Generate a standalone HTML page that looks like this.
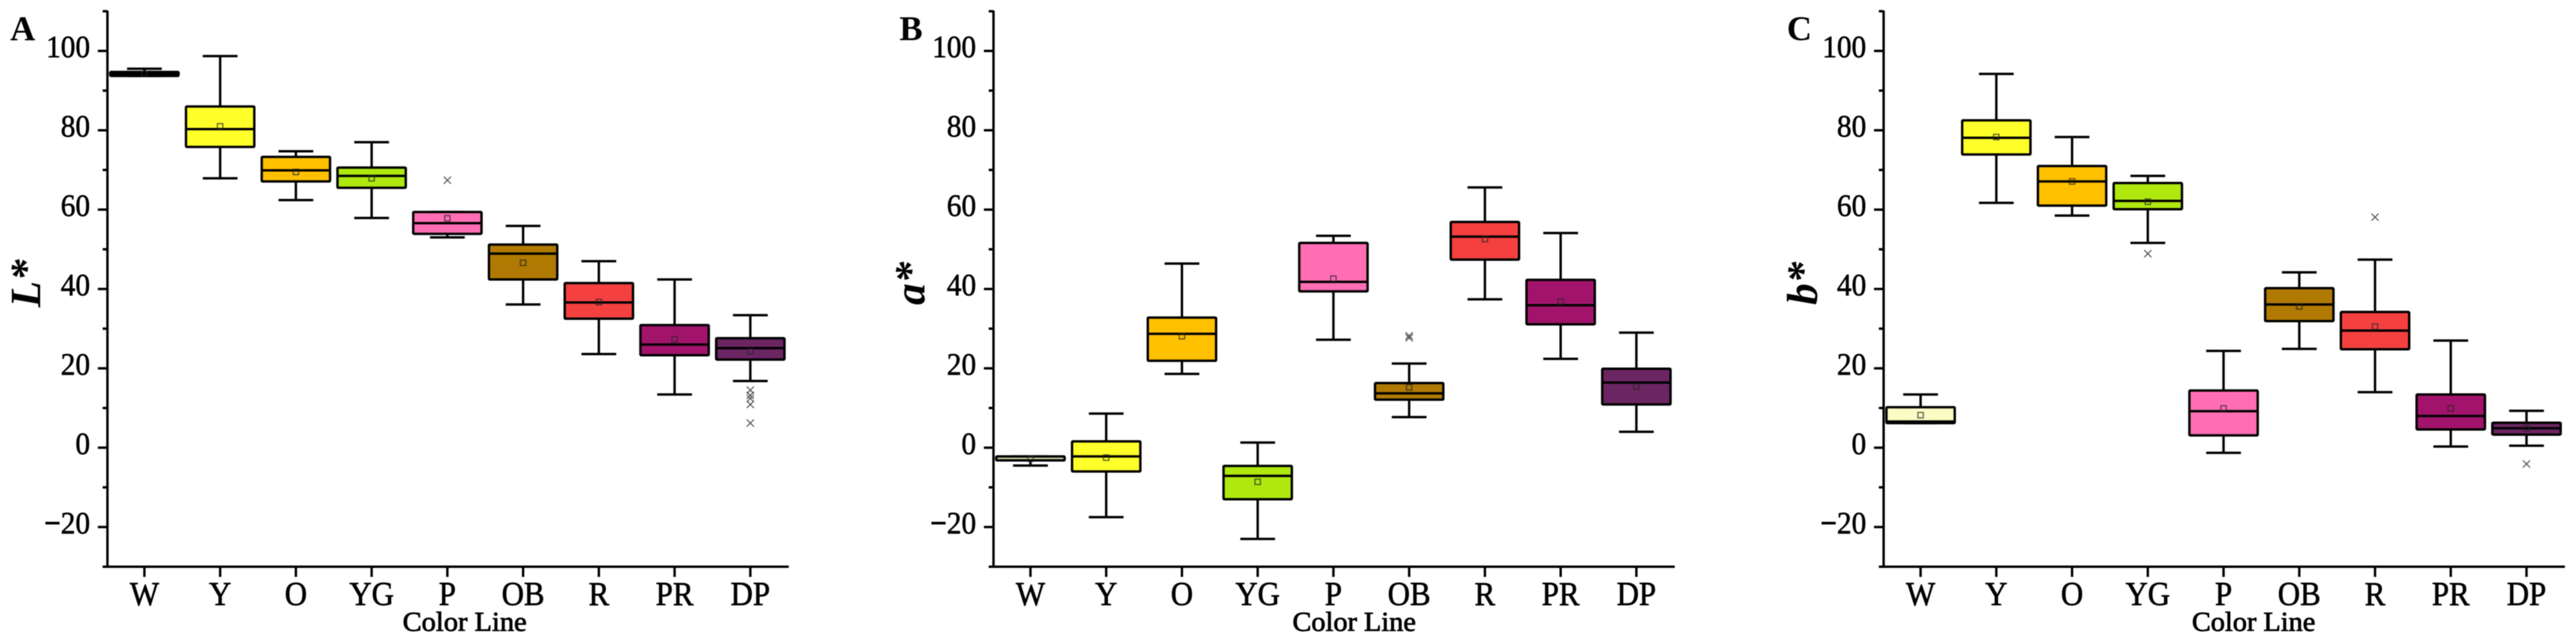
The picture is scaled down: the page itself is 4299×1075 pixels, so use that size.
<!DOCTYPE html>
<html lang="en">
<head>
<meta charset="utf-8">
<title>Color line box plots: L*, a*, b*</title>
<style>
html,body{margin:0;padding:0;background:#fff;}
body{width:4299px;height:1075px;overflow:hidden;}
svg{display:block;filter:blur(0.7px);font-family:"Liberation Serif",serif;}
</style>
</head>
<body>
<svg id="figure" xmlns="http://www.w3.org/2000/svg" width="4299" height="1075" viewBox="0 0 4299 1075">
  <text x="17" y="67" font-size="58" font-weight="bold">A</text>
  <text x="1501" y="67" font-size="58" font-weight="bold">B</text>
  <text x="2982" y="67" font-size="58" font-weight="bold">C</text>

  <text transform="translate(67,473) rotate(-90)" text-anchor="middle" font-size="72" font-weight="bold" font-style="italic">L*</text>
  <text transform="translate(1543,473) rotate(-90)" text-anchor="middle" font-size="72" font-weight="bold" font-style="italic">a*</text>
  <text transform="translate(3032,473) rotate(-90)" text-anchor="middle" font-size="72" font-weight="bold" font-style="italic">b*</text>

  <text x="672" y="1053" font-size="46" textLength="207" lengthAdjust="spacingAndGlyphs" stroke="#000" stroke-width="1.2">Color Line</text>
  <text x="2157" y="1053" font-size="46" textLength="206" lengthAdjust="spacingAndGlyphs" stroke="#000" stroke-width="1.2">Color Line</text>
  <text x="3658" y="1053" font-size="46" textLength="206" lengthAdjust="spacingAndGlyphs" stroke="#000" stroke-width="1.2">Color Line</text>
</svg>
<script>
// ---- Shared categories and axis ticks ----
const categories = ['W','Y','O','YG','P','OB','R','PR','DP'];
const boxColors = ['#fbfbc4','#ffff2a','#ffc000','#afe80f','#ff6eb4','#b07a02','#f54040','#a2146c','#6c2563'];
const majorTicks = [100,80,60,40,20,0,-20];
const minorTicks = [110,90,70,50,30,10,-10,-30];
const tickLabels = ['100','80','60','40','20','0','20'];

// ---- Panel A: L* ----
const lWhiskerHigh = [95.5,98.7,74.7,77,59.4,55.9,47,42.4,33.4];
const lQ3 = [94.7,86,73.3,70.6,59.4,51.2,41.5,30.9,27.6];
const lMedian = [94.2,80.3,69.9,68.5,56.6,48.9,36.6,26,25.1];
const lQ1 = [93.7,75.8,67.1,65.5,53.9,42.4,32.5,23.3,22.2];
const lWhiskerLow = [93.7,67.9,62.4,57.9,53,36.1,23.6,13.4,16.8];
const lMean = [94.2,81,69.5,67.9,57.8,46.6,36.7,27.3,24.3];
const lOutliers = [[],[],[],[],[67.4],[],[],[],[14.5,13.2,12.4,10.9,6.2]];

// ---- Panel B: a* ----
const aWhiskerHigh = [-2.2,8.6,46.4,1.3,53.4,21.2,65.6,54.1,29];
const aQ3 = [-2.2,1.6,32.8,-4.6,51.6,16.3,56.9,42.3,19.9];
const aMedian = [-3.2,-2.2,28.7,-7.1,41.8,13.7,53.2,35.9,16.4];
const aQ1 = [-3.2,-6,21.9,-13,39.4,12.1,47.4,31.1,10.9];
const aWhiskerLow = [-4.5,-17.5,18.6,-23,27.2,7.7,37.4,22.4,4];
const aMean = [-2.8,-2.5,28.1,-8.6,42.6,15.2,52.6,36.8,15.4];
const aOutliers = [[],[],[],[],[],[27.7,28.2],[],[],[]];
const aBoxColors = ['#cfcfa6','#ffff2a','#ffc000','#afe80f','#ff6eb4','#b07a02','#f54040','#a2146c','#6c2563'];

// ---- Panel C: b* ----
const bWhiskerHigh = [13.4,94.2,78.3,68.5,24.4,44.2,47.4,27,9.3];
const bQ3 = [10.2,82.5,71,66.7,14.4,40.2,34.2,13.4,6.3];
const bMedian = [6.6,78.1,67.1,62.2,9.2,36.1,29.5,8,4.9];
const bQ1 = [6.2,73.9,61,60.1,3.1,31.9,24.8,4.6,3.3];
const bWhiskerLow = [6.2,61.7,58.5,51.6,-1.3,24.9,14,0.3,0.5];
const bMean = [8.2,78.3,67.1,62,9.9,35.6,30.5,9.9,4.9];
const bOutliers = [[],[],[],[48.9],[],[],[58.1],[],[-4.1]];

const SVG_NS = 'http://www.w3.org/2000/svg';
const figure = document.getElementById('figure');

function yScale(v){ return 747.3 - 6.623 * v; }
function xScale(axisX, i){ return axisX + 61.7 + 126.4 * i; }

function mk(parent, tag, attrs){
  const el = document.createElementNS(SVG_NS, tag);
  for (const k in attrs) el.setAttribute(k, attrs[k]);
  parent.appendChild(el);
  return el;
}
function line(parent, x1, y1, x2, y2, w, color){
  return mk(parent, 'line', {x1:x1, y1:y1, x2:x2, y2:y2, stroke:color || '#000', 'stroke-width':w, 'stroke-linecap':'butt'});
}

function drawPanel(id, axisX, fills, hi, q3, med, q1, lo, mean, outliers){
  const g = mk(figure, 'g', {});
  
  

  // axes
  const yAxis = line(g, axisX, yScale(110) - 1, axisX, yScale(-30) + 2, 4);
  
  
  const xAxis = line(g, axisX - 8, yScale(-30), axisX + 1137, yScale(-30), 4);
  
  

  majorTicks.forEach(function(t, i){
    const tick = line(g, axisX - 16, yScale(t), axisX, yScale(t), 4);
    
    
    const label = mk(g, 'text', {
      transform: 'translate(' + (axisX - 29) + ',' + (yScale(t) + 10.5) + ') scale(0.94,1)',
      'text-anchor': 'end', 'font-size': 52, stroke: '#000', 'stroke-width': 0.9
    });
    
    
    if (t < 0) {
      const minus = mk(label, 'tspan', {'font-weight':'bold'});
      minus.textContent = '\u2212';
      const digits = mk(label, 'tspan', {});
      digits.textContent = tickLabels[i];
    } else {
      label.textContent = tickLabels[i];
    }
  });
  minorTicks.forEach(function(t){
    const tick = line(g, axisX - 8, yScale(t), axisX, yScale(t), 4);
    
    
  });

  categories.forEach(function(cat, i){
    const cx = xScale(axisX, i);

    const tick = line(g, cx, yScale(-30), cx, yScale(-30) + 17, 4);
    
    

    const label = mk(g, 'text', {
      transform: 'translate(' + cx + ',1010) scale(0.92,1)',
      'text-anchor': 'middle', 'font-size': 56, stroke: '#000', 'stroke-width': 1
    });
    label.textContent = cat;
    
    

    const box = mk(g, 'g', {});
    
    

    const stem = line(box, cx, yScale(hi[i]), cx, yScale(lo[i]), 4);
    
    

    const capHigh = line(box, cx - 29, yScale(hi[i]), cx + 29, yScale(hi[i]), 4);
    
    

    const capLow = line(box, cx - 29, yScale(lo[i]), cx + 29, yScale(lo[i]), 4);
    
    

    const rect = mk(box, 'rect', {
      x: cx - 57, y: yScale(q3[i]), width: 114, height: yScale(q1[i]) - yScale(q3[i]),
      fill: fills[i], stroke: '#000', 'stroke-width': 4, rx: 1.5
    });
    
    

    const medianLine = line(box, cx - 57, yScale(med[i]), cx + 57, yScale(med[i]), 4);
    
    

    const meanMark = mk(box, 'rect', {
      x: cx - 4.5, y: yScale(mean[i]) - 4.5, width: 9, height: 9,
      fill: 'none', stroke: '#222', 'stroke-width': 2, 'stroke-opacity': 0.7
    });
    
    

    outliers[i].forEach(function(v){
      const y = yScale(v);
      const mark = mk(box, 'path', {
        d: 'M' + (cx - 6) + ' ' + (y - 6) + 'L' + (cx + 6) + ' ' + (y + 6) + 'M' + (cx + 6) + ' ' + (y - 6) + 'L' + (cx - 6) + ' ' + (y + 6),
        stroke: '#555', 'stroke-width': 1.8, fill: 'none'
      });
      
      
    });
  });
}

drawPanel('a', 179.3, boxColors, lWhiskerHigh, lQ3, lMedian, lQ1, lWhiskerLow, lMean, lOutliers);
drawPanel('b', 1658, aBoxColors, aWhiskerHigh, aQ3, aMedian, aQ1, aWhiskerLow, aMean, aOutliers);
drawPanel('c', 3143.5, boxColors, bWhiskerHigh, bQ3, bMedian, bQ1, bWhiskerLow, bMean, bOutliers);
</script>
</body>
</html>
